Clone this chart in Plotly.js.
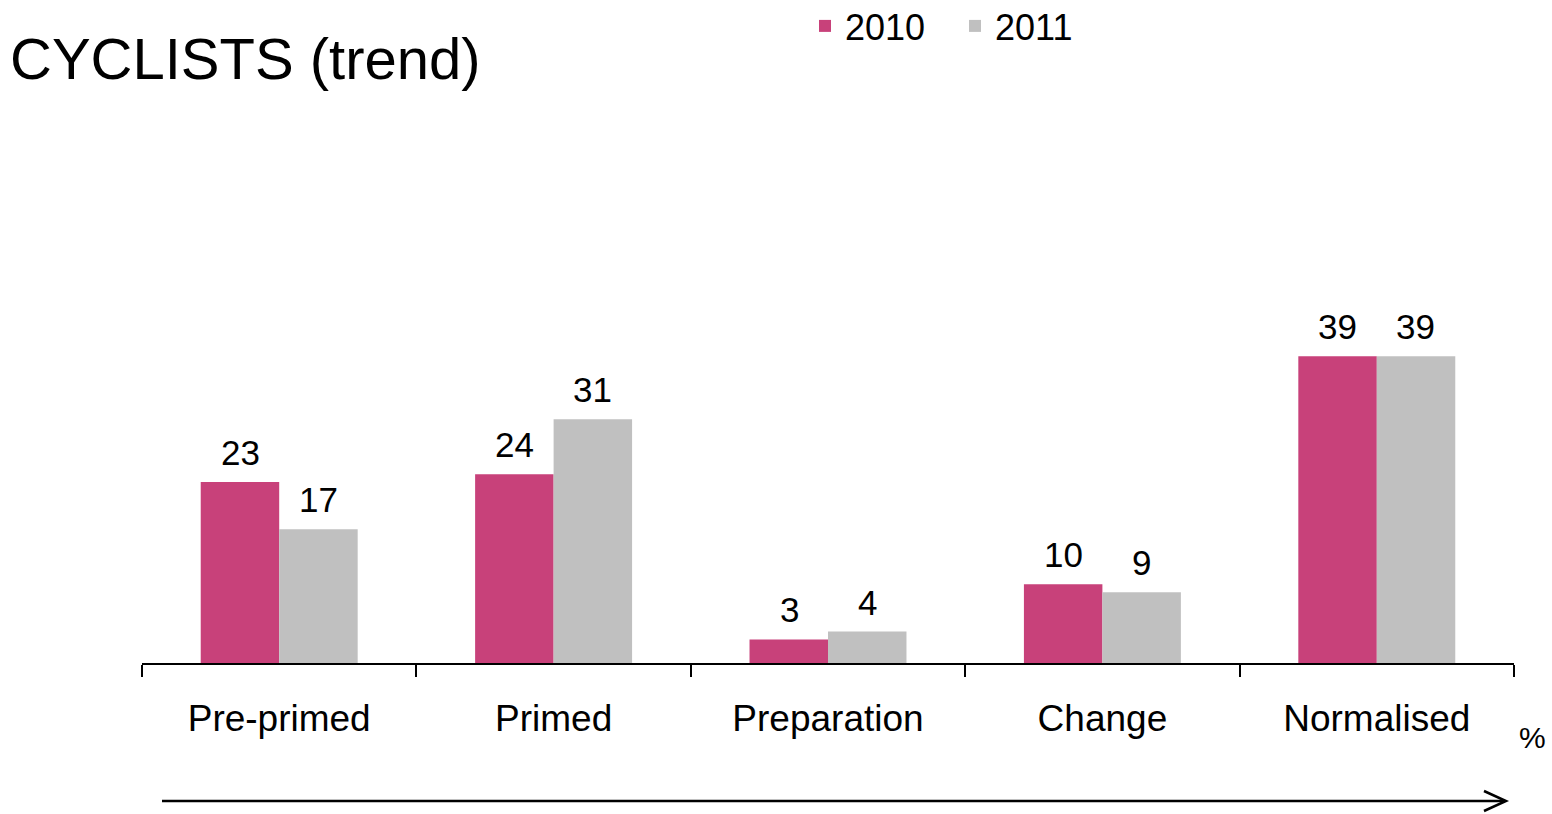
<!DOCTYPE html>
<html>
<head>
<meta charset="utf-8">
<script src="https://cdn.plot.ly/plotly-3.0.1.min.js"></script>
<style>html,body{margin:0;padding:0;background:#fff;}#chart{width:1552px;height:814px;}</style>
</head>
<body>
<div id="chart"></div>
<script>
const categories = ["Pre-primed", "Primed", "Preparation", "Change", "Normalised"];
const values2010 = [23, 24, 3, 10, 39];
const values2011 = [17, 31, 4, 9, 39];
const seriesNames = ["2010", "2011"];
const seriesColors = ["#C8417A", "#C0C0C0"];

const FONT = "Liberation Sans, Arial, sans-serif";
const allValues = [values2010, values2011];
const traces = allValues.map((vals, i) => ({
  type: "bar", name: seriesNames[i], x: categories, y: vals,
  marker: {color: seriesColors[i]}, hoverinfo: "x+y"
}));

// value labels above bars, anchored to the data via the axes
const BAR_HALF = 39;
const labelAnns = [];
allValues.forEach((vals, i) => {
  vals.forEach((v, j) => {
    labelAnns.push({
      text: String(v), xref: "x", yref: "y", x: categories[j], y: v,
      xshift: (i === 0 ? -1 : 1) * BAR_HALF, yshift: 8,
      xanchor: "center", yanchor: "bottom", showarrow: false,
      font: {family: FONT, size: 35, color: "#000"}
    });
  });
});

const layout = {
  width: 1552, height: 814,
  margin: {l: 142, r: 38, t: 309, b: 151},
  paper_bgcolor: "#fff", plot_bgcolor: "#fff",
  font: {family: FONT, color: "#000"},
  title: {text: "CYCLISTS (trend)", font: {family: FONT, size: 58, color: "#000"},
          xref: "container", x: 10/1552, xanchor: "left",
          yref: "container", y: 1 - 59/814, yanchor: "middle"},
  barmode: "group", bargap: 0.428, bargroupgap: 0,
  xaxis: {type: "category", showline: true, linecolor: "#000", linewidth: 2,
          ticks: "outside", tickson: "boundaries", ticklen: 12, tickwidth: 2, tickcolor: "#000",
          ticklabelstandoff: 22,
          tickfont: {family: FONT, size: 37, color: "#000"}, showgrid: false, zeroline: false,
          fixedrange: true},
  yaxis: {visible: false, range: [0, 45], fixedrange: true},
  showlegend: true,
  legend: {orientation: "h", xref: "paper", x: (805 - 142) / 1372, xanchor: "left",
           yref: "container", y: 1 - 26/814, yanchor: "middle", entrywidth: 105,
           font: {family: FONT, size: 36, color: "#000"}, bgcolor: "rgba(0,0,0,0)"},
  annotations: labelAnns.concat([
    {text: "%", xref: "paper", yref: "paper", x: (1532 - 142) / 1372, y: (663 - 737) / 354,
     xanchor: "center", yanchor: "middle", showarrow: false,
     font: {family: FONT, size: 30, color: "#000"}}
  ]),
  shapes: [
    {type: "line", xref: "paper", yref: "paper",
     x0: (162 - 142) / 1372, x1: (1505 - 142) / 1372, y0: (663 - 801) / 354, y1: (663 - 801) / 354,
     line: {color: "#000", width: 2.5}},
    {type: "path", xref: "paper", yref: "paper",
     path: "M " + ((1484 - 142) / 1372) + "," + ((663 - 791) / 354) +
           " L " + ((1506 - 142) / 1372) + "," + ((663 - 801) / 354) +
           " L " + ((1484 - 142) / 1372) + "," + ((663 - 811) / 354),
     line: {color: "#000", width: 2.5}}
  ]
};

Plotly.newPlot("chart", traces, layout, {displayModeBar: false, staticPlot: true});
</script>
</body>
</html>
